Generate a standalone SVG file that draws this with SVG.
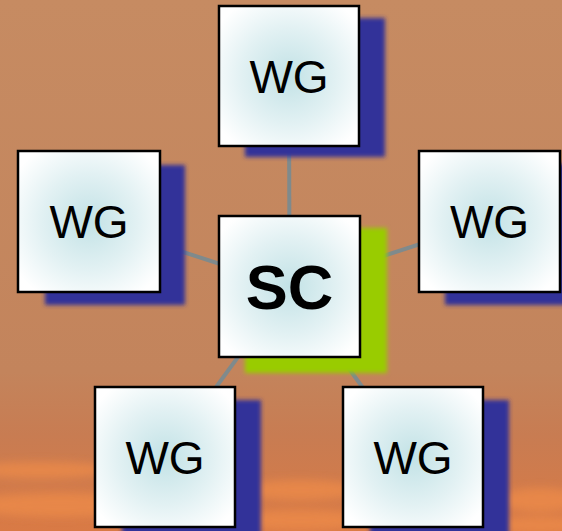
<svg xmlns="http://www.w3.org/2000/svg" width="562" height="531" viewBox="0 0 562 531">
<defs>
<linearGradient id="bg" x1="0" y1="0" x2="0" y2="1">
<stop offset="0" stop-color="#c68b62"/>
<stop offset="0.7" stop-color="#c3845c"/>
<stop offset="0.82" stop-color="#c87c52"/>
<stop offset="1" stop-color="#d97a45"/>
</linearGradient>
<radialGradient id="fill" cx="0.5" cy="0.5" r="0.62">
<stop offset="0" stop-color="#c2e2e6"/>
<stop offset="0.55" stop-color="#e2f1f3"/>
<stop offset="1" stop-color="#ffffff"/>
</radialGradient>
<filter id="blur" x="-20%" y="-20%" width="140%" height="140%"><feGaussianBlur stdDeviation="2"/></filter>
<filter id="cloud" x="-30%" y="-100%" width="160%" height="300%"><feGaussianBlur stdDeviation="4"/></filter>
<style>
.box{fill:url(#fill);stroke:#000;stroke-width:2.5}
.sh{fill:#333399;filter:url(#blur)}
.shg{fill:#99cc00;filter:url(#blur)}
.lbl{font-family:"Liberation Sans",Arial,sans-serif;font-size:46px;fill:#000;text-anchor:middle}
.big{font-size:63px;font-weight:bold}
.con{stroke:#7f8a8c;stroke-width:4;fill:none}
</style>
</defs>
<g id="background">
<rect width="562" height="531" fill="url(#bg)"/>
<g filter="url(#cloud)" fill="#ec8a48" opacity="0.8">
<ellipse cx="40" cy="470" rx="70" ry="8"/>
<ellipse cx="60" cy="505" rx="90" ry="12"/>
<ellipse cx="300" cy="490" rx="60" ry="10"/>
<ellipse cx="300" cy="520" rx="70" ry="10"/>
<ellipse cx="540" cy="500" rx="40" ry="12"/>
<ellipse cx="540" cy="525" rx="50" ry="8"/>
</g>
</g>
<g id="connectors">
<line class="con" x1="289.5" y1="286.5" x2="289" y2="76"/>
<line class="con" x1="289.5" y1="286.5" x2="89" y2="221.5"/>
<line class="con" x1="289.5" y1="286.5" x2="489.5" y2="221.5"/>
<line class="con" x1="289.5" y1="286.5" x2="165" y2="457"/>
<line class="con" x1="289.5" y1="286.5" x2="413" y2="457"/>
</g>
<g id="wg-top">
<rect class="sh" x="245" y="18" width="140" height="139"/>
<rect class="box" x="219" y="6" width="140" height="140"/>
<text class="lbl" x="289" y="93">WG</text>
</g>
<g id="wg-left">
<rect class="sh" x="45" y="165" width="140" height="140"/>
<rect class="box" x="18" y="151" width="142" height="141"/>
<text class="lbl" x="89" y="238">WG</text>
</g>
<g id="wg-right">
<rect class="sh" x="445" y="164" width="140" height="141"/>
<rect class="box" x="419" y="151" width="141" height="141"/>
<text class="lbl" x="489.5" y="238">WG</text>
</g>
<g id="sc">
<rect class="shg" x="245" y="228" width="142" height="145"/>
<rect class="box" x="219" y="216" width="141" height="141"/>
<text class="lbl big" x="289.5" y="309">SC</text>
</g>
<g id="wg-bottom-left">
<rect class="sh" x="122" y="400" width="139" height="145"/>
<rect class="box" x="95" y="387" width="140" height="140"/>
<text class="lbl" x="165" y="474">WG</text>
</g>
<g id="wg-bottom-right">
<rect class="sh" x="370" y="400" width="139" height="145"/>
<rect class="box" x="343" y="387" width="140" height="140"/>
<text class="lbl" x="413" y="474">WG</text>
</g>
</svg>
